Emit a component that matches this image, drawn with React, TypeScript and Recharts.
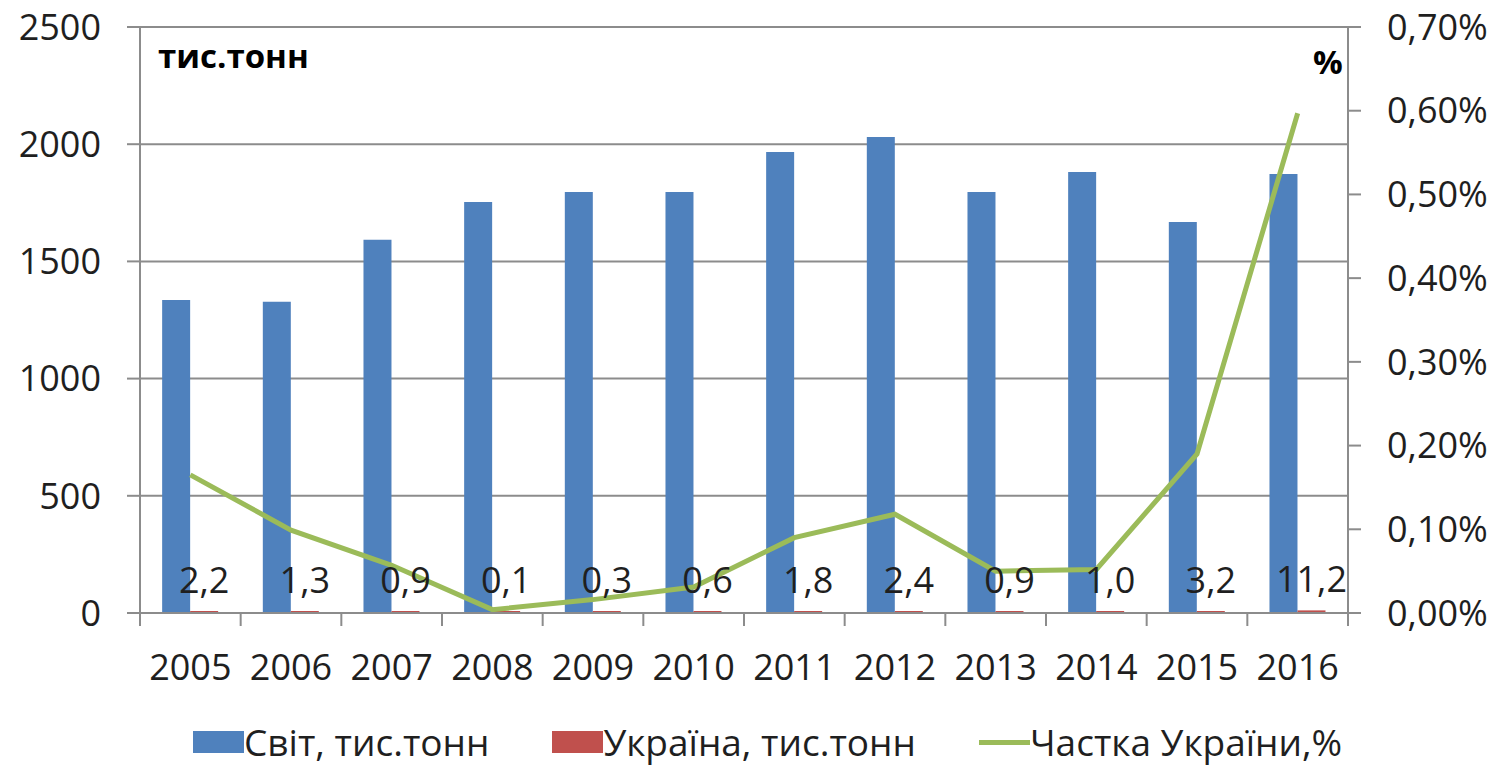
import React from 'react'
import {
  ComposedChart,
  Bar,
  Line,
  XAxis,
  YAxis,
  CartesianGrid,
  Legend,
  LabelList,
} from 'recharts'

const years = ['2005', '2006', '2007', '2008', '2009', '2010', '2011', '2012', '2013', '2014', '2015', '2016']
const world = [1335, 1328, 1592, 1753, 1796, 1796, 1967, 2031, 1796, 1881, 1668, 1873]
const ukraine = [2.2, 1.3, 0.9, 0.1, 0.3, 0.6, 1.8, 2.4, 0.9, 1.0, 3.2, 11.2]
const share = [0.165, 0.099, 0.057, 0.004, 0.016, 0.031, 0.09, 0.118, 0.05, 0.052, 0.19, 0.597]
const leftTicks = [0, 500, 1000, 1500, 2000, 2500]
const rightTicks = [0, 0.1, 0.2, 0.3, 0.4, 0.5, 0.6, 0.7]

const data = years.map((year, i) => ({
  year,
  world: world[i],
  ukraine: ukraine[i],
  share: share[i],
}))

const W = 1503
const H = 766
const LEFT_W = 140
const RIGHT_W = 155
const PLOT_W = W - LEFT_W - RIGHT_W
const BAND = PLOT_W / years.length

const FONT = '"Open Sans", "Noto Sans", sans-serif'
const TEXT = '#1f1f1f'
const GRID = '#8c8c8c'
const BLUE = '#4F81BD'
const RED = '#C0504D'
const GREEN = '#9BBB59'

const comma = (v: number, d: number) => v.toFixed(d).replace('.', ',')

function YearTick({ x, y, payload, index }: any) {
  const last = index === years.length - 1
  return (
    <g>
      <line x1={x - BAND / 2} y1={y} x2={x - BAND / 2} y2={y + 13} stroke={GRID} strokeWidth={2} />
      {last && <line x1={x + BAND / 2} y1={y} x2={x + BAND / 2} y2={y + 13} stroke={GRID} strokeWidth={2} />}
      <text x={x} y={y + 67} textAnchor="middle" fill={TEXT} fontSize={36} fontFamily={FONT}>
        {payload.value}
      </text>
    </g>
  )
}

function LegendBox() {
  const items = [
    { label: 'Світ, тис.тонн', color: BLUE, kind: 'box' },
    { label: 'Україна, тис.тонн', color: RED, kind: 'box' },
    { label: 'Частка України,%', color: GREEN, kind: 'line' },
  ]
  return (
    <div style={{ display: 'flex', alignItems: 'center', gap: 63, fontFamily: FONT, fontSize: 37, color: TEXT }}>
      {items.map((it) => (
        <div key={it.label} style={{ display: 'flex', alignItems: 'center' }}>
          <span
            style={{
              display: 'inline-block',
              width: 51,
              height: it.kind === 'box' ? 22 : 5,
              background: it.color,
            }}
          />
          <span style={{ lineHeight: '40px' }}>{it.label}</span>
        </div>
      ))}
    </div>
  )
}

export default function App() {
  return (
    <div style={{ position: 'absolute', left: 0, top: 0, width: W, height: H, background: '#fff' }}>
      <ComposedChart
        width={W}
        height={H}
        data={data}
        margin={{ top: 27, right: 0, bottom: 0, left: 0 }}
        barCategoryGap="22%"
        barGap={0}
      >
        <CartesianGrid yAxisId="left" vertical={false} stroke={GRID} strokeWidth={2} />
        <XAxis
          dataKey="year"
          height={90}
          tickSize={0}
          tickMargin={0}
          tick={<YearTick />}
          axisLine={{ stroke: GRID, strokeWidth: 2 }}
          tickLine={false}
          interval={0}
        />
        <YAxis
          yAxisId="left"
          width={LEFT_W}
          domain={[0, 2500]}
          ticks={leftTicks}
          tickSize={13}
          tickMargin={26}
          axisLine={{ stroke: GRID, strokeWidth: 2 }}
          tickLine={{ stroke: GRID, strokeWidth: 2 }}
          tick={{ fill: TEXT, fontSize: 36, fontFamily: FONT }}
        />
        <YAxis
          yAxisId="right"
          orientation="right"
          width={RIGHT_W}
          domain={[0, 0.7]}
          ticks={rightTicks}
          tickSize={13}
          tickMargin={26}
          axisLine={{ stroke: GRID, strokeWidth: 2 }}
          tickLine={{ stroke: GRID, strokeWidth: 2 }}
          tick={{ fill: TEXT, fontSize: 36, fontFamily: FONT, textAnchor: 'start' }}
          tickFormatter={(v: number) => comma(v, 2) + '%'}
        />
        <Bar yAxisId="left" dataKey="world" name="Світ, тис.тонн" fill={BLUE} isAnimationActive={false} />
        <Bar
          yAxisId="left"
          dataKey="ukraine"
          name="Україна, тис.тонн"
          fill={RED}
          minPointSize={2}
          isAnimationActive={false}
        >
          <LabelList
            dataKey="ukraine"
            position="top"
            offset={18}
            fill={TEXT}
            fontSize={36}
            fontFamily={FONT}
            formatter={(v: any) => comma(Number(v), 1)}
          />
        </Bar>
        <Line
          yAxisId="right"
          dataKey="share"
          name="Частка України,%"
          stroke={GREEN}
          strokeWidth={5}
          dot={false}
          type="linear"
          isAnimationActive={false}
        />
        <Legend
          height={63}
          verticalAlign="bottom"
          content={<LegendBox />}
          wrapperStyle={{ left: 193, top: 722, width: 'auto' }}
        />
      </ComposedChart>
      <div
        style={{
          position: 'absolute',
          left: 158,
          top: 36,
          fontFamily: FONT,
          fontWeight: 700,
          fontSize: 33,
          color: '#000',
          lineHeight: '40px',
        }}
      >
        тис.тонн
      </div>
      <div
        style={{
          position: 'absolute',
          left: 1313,
          top: 42,
          fontFamily: FONT,
          fontWeight: 700,
          fontSize: 33,
          color: '#000',
          lineHeight: '40px',
        }}
      >
        %
      </div>
    </div>
  )
}
